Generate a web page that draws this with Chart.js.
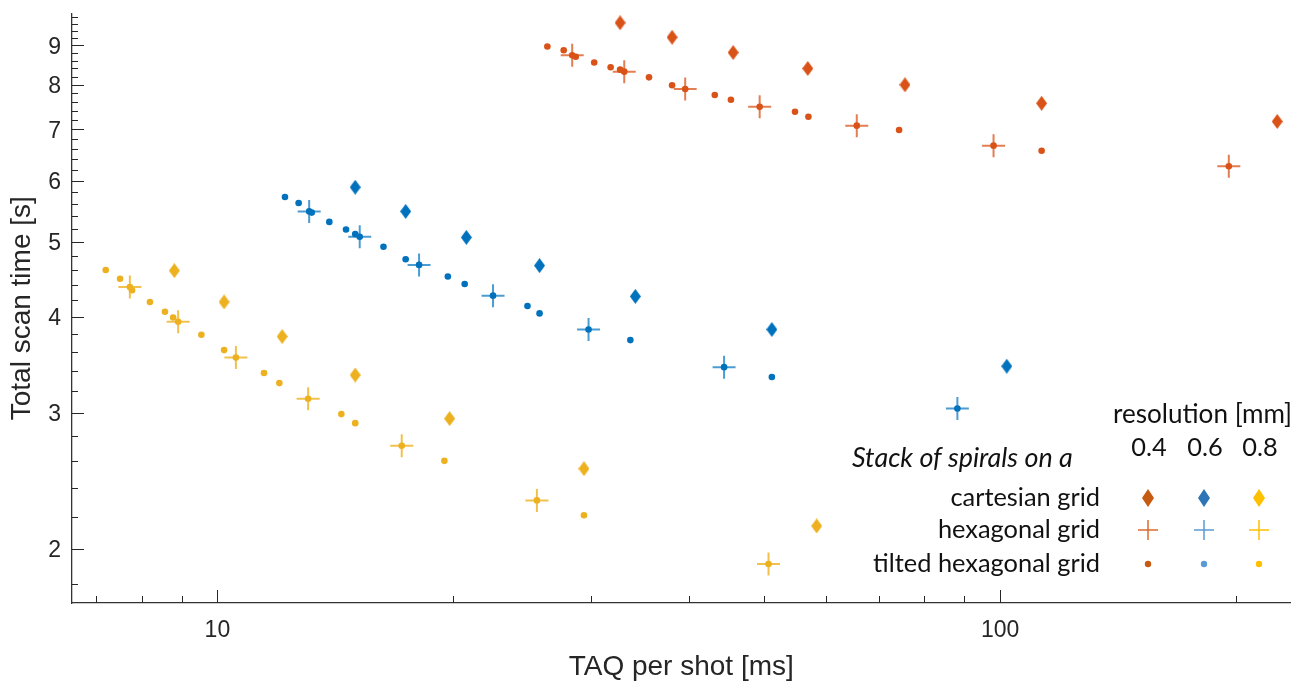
<!DOCTYPE html>
<html>
<head>
<meta charset="utf-8">
<script src="https://cdn.jsdelivr.net/npm/chart.js"></script>
<style>
  html, body { margin: 0; padding: 0; background: #fff; }
  #chart { display: block; }
</style>
</head>
<body>
<canvas id="chart" width="1304" height="684"></canvas>
<script>
// Datos (TAQ por disparo [ms], tiempo total [s])

// 0.4 mm
const cartX04 = [32.7, 38.1, 45.6, 56.8, 75.6, 113, 226];
const cartY04 = [9.63, 9.22, 8.81, 8.40, 8.00, 7.57, 7.17];
const hexX04 = [28.4, 33.1, 39.6, 49.3, 65.6, 98.1, 196];
const hexY04 = [8.74, 8.32, 7.90, 7.49, 7.08, 6.67, 6.27];
const tiltX04 = [26.4, 27.7, 28.4, 28.7, 30.3, 31.8, 32.7, 33.1, 35.6, 38.1, 39.6, 43.2, 45.3, 49.3, 54.7, 56.9, 65.6, 74.3, 98.1, 113, 196];
const tiltY04 = [8.97, 8.87, 8.74, 8.70, 8.55, 8.43, 8.37, 8.32, 8.18, 7.99, 7.90, 7.76, 7.65, 7.49, 7.38, 7.27, 7.08, 6.99, 6.67, 6.57, 6.27];

// 0.6 mm
const cartX06 = [15.0, 17.4, 20.8, 25.8, 34.2, 51.1, 102];
const cartY06 = [5.89, 5.48, 5.07, 4.66, 4.25, 3.85, 3.45];
const hexX06 = [13.1, 15.2, 18.1, 22.5, 29.8, 44.4, 88.2];
const hexY06 = [5.48, 5.08, 4.67, 4.26, 3.85, 3.44, 3.04];
const tiltX06 = [12.2, 12.7, 13.1, 13.2, 13.9, 14.6, 15.0, 15.2, 16.3, 17.4, 18.1, 19.7, 20.7, 22.5, 24.9, 25.8, 29.8, 33.7, 44.4, 51.1, 88.2];
const tiltY06 = [5.72, 5.62, 5.48, 5.46, 5.31, 5.19, 5.12, 5.08, 4.93, 4.75, 4.67, 4.51, 4.41, 4.26, 4.13, 4.04, 3.85, 3.73, 3.44, 3.34, 3.04];

// 0.8 mm
const cartX08 = [8.81, 10.2, 12.1, 15.0, 19.8, 29.4, 58.3];
const cartY08 = [4.59, 4.18, 3.77, 3.36, 2.95, 2.54, 2.14];
const hexX08 = [7.73, 8.91, 10.56, 13.06, 17.2, 25.6, 50.6];
const hexY08 = [4.37, 3.94, 3.54, 3.13, 2.72, 2.31, 1.91];
const tiltX08 = [7.20, 7.51, 7.73, 7.78, 8.20, 8.57, 8.78, 8.91, 9.54, 10.2, 10.56, 11.47, 12.0, 13.06, 14.4, 15.0, 17.2, 19.5, 25.6, 29.4, 50.6];
const tiltY08 = [4.60, 4.48, 4.37, 4.33, 4.18, 4.06, 3.99, 3.94, 3.79, 3.62, 3.54, 3.38, 3.28, 3.13, 2.99, 2.91, 2.72, 2.60, 2.31, 2.21, 1.91];

// Ejes
const xTickLabels = [10, 100];
const xMinorTicks = [7, 8, 9, 20, 30, 40, 50, 60, 70, 80, 90, 200];
const yTickLabels = [2, 3, 4, 5, 6, 7, 8, 9];
const yMinorTicks = [1.8, 2.2, 2.4, 2.6, 2.8, 3.2, 3.4, 3.6, 3.8, 4.2, 4.4, 4.6, 4.8,
  5.2, 5.4, 5.6, 5.8, 6.2, 6.4, 6.6, 6.8, 7.2, 7.4, 7.6, 7.8, 8.2, 8.4, 8.6, 8.8,
  9.2, 9.4, 9.6, 9.8];

// Leyenda
const legendTitle = 'resolution [mm]';
const resolutionLabels = ['0.4', '0.6', '0.8'];
const legendHeading = 'Stack of spirals on a';
const legendRowLabels = ['cartesian grid', 'hexagonal grid', 'tilted hexagonal grid'];

const axisColor = '#262626';
const colors = ['#D95319', '#0072BD', '#EDB120'];
const crossColors = ['rgba(217,83,25,0.75)', 'rgba(0,114,189,0.7)', 'rgba(237,177,32,0.8)'];

// Rombo alargado (como el marcador 'd' de MATLAB)
function makeDiamond(color, w, h) {
    const c = document.createElement('canvas');
    c.width = w;
    c.height = h;
    const g = c.getContext('2d');
    g.fillStyle = color;
    g.beginPath();
    g.moveTo(w / 2, 0);
    g.lineTo(w, h / 2);
    g.lineTo(w / 2, h);
    g.lineTo(0, h / 2);
    g.closePath();
    g.fill();
    return c;
}

function toPoints(xs, ys) {
    return xs.map((x, i) => ({ x: x, y: ys[i] }));
}

const groups = [
    { cx: cartX04, cy: cartY04, hx: hexX04, hy: hexY04, tx: tiltX04, ty: tiltY04 },
    { cx: cartX06, cy: cartY06, hx: hexX06, hy: hexY06, tx: tiltX06, ty: tiltY06 },
    { cx: cartX08, cy: cartY08, hx: hexX08, hy: hexY08, tx: tiltX08, ty: tiltY08 }
];

const datasets = [];
groups.forEach((g, i) => {
    datasets.push({
        label: 'tilted ' + resolutionLabels[i],
        data: toPoints(g.tx, g.ty),
        pointStyle: 'circle',
        pointRadius: 3.3,
        pointBorderWidth: 0,
        pointBackgroundColor: colors[i],
        order: 0
    });
    datasets.push({
        label: 'hexagonal ' + resolutionLabels[i],
        data: toPoints(g.hx, g.hy),
        pointStyle: 'cross',
        pointRadius: 11.5,
        pointBorderWidth: 2,
        pointBorderColor: crossColors[i],
        order: 1
    });
    datasets.push({
        label: 'cartesian ' + resolutionLabels[i],
        data: toPoints(g.cx, g.cy),
        pointStyle: makeDiamond(colors[i], 11, 15),
        pointRadius: 6,
        order: 2
    });
});

// Marcas de los ejes hacia dentro (estilo MATLAB)
const tickMarks = {
    id: 'tickMarks',
    afterDraw(chart) {
        const { ctx, scales: { x, y }, chartArea: a } = chart;
        ctx.save();
        ctx.strokeStyle = axisColor;
        ctx.lineWidth = 1;
        ctx.beginPath();
        const xt = (v, len) => {
            const px = Math.round(x.getPixelForValue(v)) + 0.5;
            ctx.moveTo(px, a.bottom);
            ctx.lineTo(px, a.bottom - len);
        };
        const yt = (v, len) => {
            const py = Math.round(y.getPixelForValue(v)) + 0.5;
            ctx.moveTo(a.left, py);
            ctx.lineTo(a.left + len, py);
        };
        xTickLabels.forEach(v => xt(v, 13));
        xMinorTicks.forEach(v => xt(v, 7));
        yTickLabels.forEach(v => yt(v, 12));
        yMinorTicks.forEach(v => yt(v, 6));
        ctx.stroke();
        ctx.restore();
    }
};

function fitFont(ctx, text, width, style, family) {
    ctx.font = style + ' 100px ' + family;
    const size = 100 * width / ctx.measureText(text).width;
    return style + ' ' + size.toFixed(1) + 'px ' + family;
}

// Leyenda a modo de tabla
const legendTable = {
    id: 'legendTable',
    afterDraw(chart) {
        const ctx = chart.ctx;
        const family = 'Lato, "Open Sans", sans-serif';
        const colX = [1148, 1204, 1259];
        ctx.save();
        ctx.fillStyle = '#111';
        ctx.textBaseline = 'alphabetic';

        const font = fitFont(ctx, legendRowLabels[2], 227, 'normal', family);
        ctx.font = fitFont(ctx, legendTitle, 179, 'normal', family);
        ctx.textAlign = 'left';
        ctx.fillText(legendTitle, 1113, 423);
        ctx.font = font;
        ctx.textAlign = 'center';
        resolutionLabels.forEach((t, i) => ctx.fillText(t, colX[i] + 1, 456));

        ctx.font = fitFont(ctx, legendHeading, 221, 'italic', family);
        ctx.textAlign = 'left';
        ctx.fillText(legendHeading, 852, 467);

        ctx.font = font;
        ctx.textAlign = 'right';
        const rowY = [498, 530, 564];
        legendRowLabels.forEach((t, i) => ctx.fillText(t, 1100, rowY[i] + 8));

        const diamondCols = ['#C55A11', '#2E75B6', '#FFC000'];
        const crossCols = ['#DD6A2F', '#5B9BD5', '#FFC000'];
        const dotCols = ['#C55A11', '#5B9BD5', '#FFC000'];
        colX.forEach((cx, i) => {
            const d = makeDiamond(diamondCols[i], 12, 18);
            ctx.drawImage(d, cx - 6, rowY[0] - 9);
            ctx.strokeStyle = crossCols[i];
            ctx.lineWidth = 1.5;
            ctx.beginPath();
            ctx.moveTo(cx - 10, rowY[1]);
            ctx.lineTo(cx + 10, rowY[1]);
            ctx.moveTo(cx, rowY[1] - 10);
            ctx.lineTo(cx, rowY[1] + 10);
            ctx.stroke();
            ctx.fillStyle = dotCols[i];
            ctx.beginPath();
            ctx.arc(cx, rowY[2], 3.2, 0, Math.PI * 2);
            ctx.fill();
        });
        ctx.restore();
    }
};

const tickFont = { family: '"Liberation Sans", Arial, sans-serif', size: 23 };
const titleFont = { family: '"Liberation Sans", Arial, sans-serif', size: 28 };

new Chart(document.getElementById('chart').getContext('2d'), {
    type: 'scatter',
    data: { datasets: datasets },
    options: {
        responsive: false,
        animation: false,
        clip: false,
        layout: { padding: { top: 12, right: 7, left: 0, bottom: 0 } },
        plugins: {
            legend: { display: false },
            tooltip: { enabled: false }
        },
        scales: {
            x: {
                type: 'logarithmic',
                bounds: 'data',
                min: 6.52,
                max: 235,
                afterBuildTicks: s => {
                    s.ticks = xMinorTicks.concat(xTickLabels).sort((a, b) => a - b).map(v => ({ value: v }));
                },
                afterFit: s => {
                    s.height = 81;
                    s.paddingLeft = 0;
                    s.paddingRight = 0;
                },
                ticks: {
                    autoSkip: false,
                    maxRotation: 0,
                    padding: 14,
                    font: tickFont,
                    color: axisColor,
                    callback: v => xTickLabels.includes(v) ? String(v) : ''
                },
                grid: { display: false, drawTicks: false },
                border: { display: true, color: '#333', width: 1.3 },
                title: { display: true, text: 'TAQ per shot [ms]', font: titleFont, color: axisColor, padding: 0 }
            },
            y: {
                type: 'logarithmic',
                bounds: 'data',
                min: 1.7,
                max: 9.9,
                afterBuildTicks: s => {
                    s.ticks = yMinorTicks.concat(yTickLabels).sort((a, b) => a - b).map(v => ({ value: v }));
                },
                afterFit: s => {
                    s.width = 72;
                    s.paddingTop = 0;
                    s.paddingBottom = 0;
                },
                ticks: {
                    autoSkip: false,
                    padding: 11,
                    labelOffset: 2,
                    font: tickFont,
                    color: axisColor,
                    callback: v => yTickLabels.includes(v) ? String(v) : ''
                },
                grid: { display: false, drawTicks: false },
                border: { display: true, color: '#333', width: 1.3 },
                title: { display: true, text: 'Total scan time [s]', font: titleFont, color: axisColor, padding: { top: 5.5, bottom: 0 } }
            }
        }
    },
    plugins: [tickMarks, legendTable]
});
</script>
</body>
</html>
